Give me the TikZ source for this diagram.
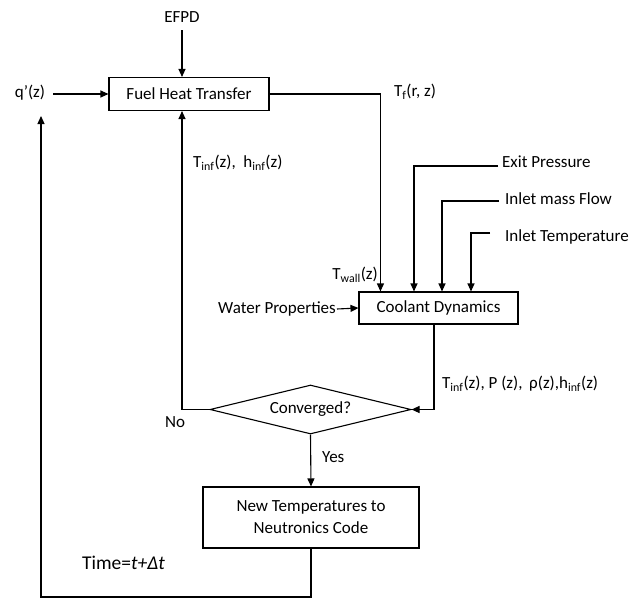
\documentclass[tikz,border=0pt]{standalone}
\usepackage{fontspec}
\setmainfont{Carlito}
\usetikzlibrary{shapes.geometric,arrows.meta,calc}
\begin{document}
\begin{tikzpicture}[x=1pt,y=-1pt,
  every node/.style={font=\fontsize{17}{20}\selectfont, inner sep=1pt},
  boxn/.style={draw, line width=1.1pt, rectangle, inner sep=2pt},
  decn/.style={draw, line width=1.1pt, diamond, aspect=4.1, inner sep=0pt, minimum width=201pt, minimum height=49pt},
  lbl/.style={font=\fontsize{17}{20}\selectfont},
  conn/.style={line width=1.1pt},
  arr/.style={conn, -{Triangle[length=8pt,width=7pt]}}]
\useasboundingbox (0,0) rectangle (638,600);
% boxes
\node[boxn, minimum width=160pt, minimum height=33pt] (fuel) at (189,94) {Fuel Heat Transfer};
\node[boxn, minimum width=159pt, minimum height=32pt] (cool) at (438.5,308) {Coolant Dynamics};
\node[decn] (conv) at (310.5,409.5) {Converged?};
\node[boxn, minimum width=216pt, minimum height=61pt, align=center, font=\fontsize{17}{22}\selectfont] (newt) at (311,517.5) {New Temperatures to\\Neutronics Code};
% labels
\node[lbl] (efpd) at (182,17) {EFPD};
\node[lbl] (q) at (30,93) {q’(z)};
\node[lbl] (tf) at (415,92) {T\textsubscript{f}(r, z)};
\node[lbl, anchor=west] (tinf) at (192,163) {T\textsubscript{inf}(z),\ \ h\textsubscript{inf}(z)};
\node[lbl, anchor=west] (exitp) at (501,162) {Exit Pressure};
\node[lbl, anchor=west] (imf) at (504,199) {Inlet mass Flow};
\node[lbl, anchor=west] (itemp) at (504,237) {Inlet Temperature};
\node[lbl, anchor=east] (twall) at (379,275) {T\textsubscript{wall}(z)};
\node[lbl, anchor=east] (water) at (337,309) {Water Properties};
\node[lbl, anchor=west] (props) at (441,384) {T\textsubscript{inf}(z), P (z), \,ρ(z),h\textsubscript{inf}(z)};
\node[lbl] (no) at (175,422) {No};
\node[lbl, anchor=west] (yes) at (321,457) {Yes};
\node[lbl, anchor=west, font=\fontsize{19.5}{22}\selectfont] (time) at (81,563) {Time=\textit{t+Δt}};
% coordinates
\coordinate (efpdtop) at (182,30);
\coordinate (qstart) at (53,94);
\coordinate (epstart) at (498,166);
\coordinate (imfstart) at (499,201);
\coordinate (itstart) at (490,233);
\coordinate (loopbot) at (41,597);
\coordinate (loopend) at (41,116);
% connectors
\draw[arr] (efpdtop) -- (efpdtop |- fuel.north);
\draw[arr] (qstart) -- (fuel.west);
\draw[arr] (fuel.east) -| ($(cool.north west)+(22,0)$);
\draw[arr] (epstart) -| (cool.north -| 414,0);
\draw[arr] (imfstart) -| (cool.north -| 442,0);
\draw[arr] (itstart) -| (cool.north -| 471,0);
\draw[arr] (water.east) -- (cool.west);
\draw[arr] (cool.south -| 434,0) |- (conv.east);
\draw[arr] (conv.west) -| (fuel.south -| efpdtop);
\draw[arr] (conv.south) -- (newt.north);
\draw[arr] (newt.south) |- (loopbot) -- (loopend);
\end{tikzpicture}
\end{document}
